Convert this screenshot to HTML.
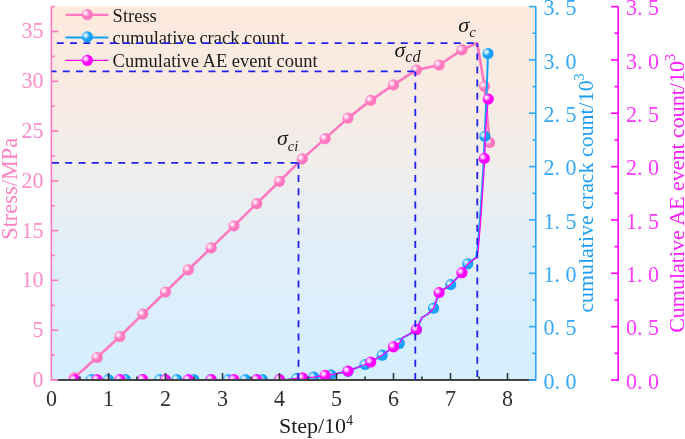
<!DOCTYPE html>
<html><head><meta charset="utf-8"><style>
html,body{margin:0;padding:0;background:#fff;width:685px;height:439px;overflow:hidden;}
svg{display:block;font-family:"Liberation Serif",serif;will-change:transform;}
</style></head><body>
<svg width="685" height="439" viewBox="0 0 685 439">
<defs>
<linearGradient id="bg" x1="0" y1="0" x2="0" y2="1">
<stop offset="0" stop-color="rgb(253,234,221)"/>
<stop offset="0.25" stop-color="rgb(248,235,227)"/>
<stop offset="0.47" stop-color="rgb(238,238,238)"/>
<stop offset="0.65" stop-color="rgb(225,238,248)"/>
<stop offset="0.89" stop-color="rgb(216,239,253)"/>
<stop offset="1" stop-color="rgb(213,239,255)"/>
</linearGradient>
<radialGradient id="gp" cx="0.36" cy="0.38" r="0.7" fx="0.34" fy="0.36">
<stop offset="0" stop-color="#FFFFFF"/><stop offset="0.18" stop-color="#FFD6EC"/><stop offset="0.5" stop-color="#FF78C0"/><stop offset="1" stop-color="#FF78C0"/></radialGradient>
<radialGradient id="gb" cx="0.36" cy="0.38" r="0.7" fx="0.34" fy="0.36">
<stop offset="0" stop-color="#FFFFFF"/><stop offset="0.18" stop-color="#B8E4FF"/><stop offset="0.5" stop-color="#14A0F8"/><stop offset="1" stop-color="#14A0F8"/></radialGradient>
<radialGradient id="gm" cx="0.36" cy="0.38" r="0.7" fx="0.34" fy="0.36">
<stop offset="0" stop-color="#FFFFFF"/><stop offset="0.18" stop-color="#FFC0FF"/><stop offset="0.5" stop-color="#FF00FF"/><stop offset="1" stop-color="#FF00FF"/></radialGradient>
<clipPath id="cp"><rect x="51.5" y="6.6" width="484.3" height="373.4"/></clipPath>
</defs>
<rect x="52" y="6.6" width="483.8" height="373.4" fill="url(#bg)"/>
<g clip-path="url(#cp)">
<polyline points="74.3,377.5 97.1,357.5 119.9,336.5 142.7,314.1 165.5,292.0 188.3,269.8 211.1,247.9 233.9,225.9 256.7,203.6 279.5,181.3 302.3,158.9 325.1,138.6 347.9,118.1 370.7,100.4 393.5,84.9 416.3,70.0 439.1,65.0 461.9,49.9 477.2,43.0 484.5,86.3 489.6,142.5" fill="none" stroke="#FF78C0" stroke-width="2.6" stroke-linejoin="round"/>
<circle cx="74.3" cy="377.5" r="5.6" fill="url(#gp)"/><circle cx="97.1" cy="357.5" r="5.6" fill="url(#gp)"/><circle cx="119.9" cy="336.5" r="5.6" fill="url(#gp)"/><circle cx="142.7" cy="314.1" r="5.6" fill="url(#gp)"/><circle cx="165.5" cy="292.0" r="5.6" fill="url(#gp)"/><circle cx="188.3" cy="269.8" r="5.6" fill="url(#gp)"/><circle cx="211.1" cy="247.9" r="5.6" fill="url(#gp)"/><circle cx="233.9" cy="225.9" r="5.6" fill="url(#gp)"/><circle cx="256.7" cy="203.6" r="5.6" fill="url(#gp)"/><circle cx="279.5" cy="181.3" r="5.6" fill="url(#gp)"/><circle cx="302.3" cy="158.9" r="5.6" fill="url(#gp)"/><circle cx="325.1" cy="138.6" r="5.6" fill="url(#gp)"/><circle cx="347.9" cy="118.1" r="5.6" fill="url(#gp)"/><circle cx="370.7" cy="100.4" r="5.6" fill="url(#gp)"/><circle cx="393.5" cy="84.9" r="5.6" fill="url(#gp)"/><circle cx="416.3" cy="70.0" r="5.6" fill="url(#gp)"/><circle cx="439.1" cy="65.0" r="5.6" fill="url(#gp)"/><circle cx="461.9" cy="49.9" r="5.6" fill="url(#gp)"/><circle cx="484.5" cy="86.3" r="5.6" fill="url(#gp)"/><circle cx="489.6" cy="142.5" r="5.6" fill="url(#gp)"/>
<polyline points="51.5,380.0 285.0,380.0 296.6,378.4 302.3,377.8 313.7,377.2 325.1,375.4 330.9,374.9 347.9,371.2 365.1,364.5 370.7,362.0 382.2,355.2 393.5,346.8 399.4,343.3 402.5,337.8 410.0,333.8 416.3,329.5 422.0,317.5 428.0,314.0 433.6,308.2 439.1,292.6 450.7,284.6 461.9,272.7 467.8,264.0 471.0,261.5 476.1,257.3 477.6,248.0 479.1,230.0 480.6,210.0 482.6,180.0 483.9,158.4 484.7,136.4 486.5,95.0 488.0,53.5" fill="none" stroke="#14A0F8" stroke-width="2" stroke-linejoin="round"/>
<circle cx="91.2" cy="379.6" r="5.6" fill="url(#gb)"/><circle cx="108.3" cy="379.6" r="5.6" fill="url(#gb)"/><circle cx="125.4" cy="379.6" r="5.6" fill="url(#gb)"/><circle cx="142.6" cy="379.6" r="5.6" fill="url(#gb)"/><circle cx="159.7" cy="379.6" r="5.6" fill="url(#gb)"/><circle cx="176.8" cy="379.6" r="5.6" fill="url(#gb)"/><circle cx="193.9" cy="379.6" r="5.6" fill="url(#gb)"/><circle cx="211.0" cy="379.6" r="5.6" fill="url(#gb)"/><circle cx="228.2" cy="379.6" r="5.6" fill="url(#gb)"/><circle cx="245.3" cy="379.6" r="5.6" fill="url(#gb)"/><circle cx="262.4" cy="379.6" r="5.6" fill="url(#gb)"/><circle cx="279.5" cy="379.6" r="5.6" fill="url(#gb)"/><circle cx="296.6" cy="378.4" r="5.6" fill="url(#gb)"/><circle cx="313.7" cy="377.2" r="5.6" fill="url(#gb)"/><circle cx="330.9" cy="374.9" r="5.6" fill="url(#gb)"/><circle cx="348.0" cy="371.3" r="5.6" fill="url(#gb)"/><circle cx="365.1" cy="364.5" r="5.6" fill="url(#gb)"/><circle cx="382.2" cy="355.2" r="5.6" fill="url(#gb)"/><circle cx="399.4" cy="343.3" r="5.6" fill="url(#gb)"/><circle cx="416.5" cy="329.6" r="5.6" fill="url(#gb)"/><circle cx="433.6" cy="308.2" r="5.6" fill="url(#gb)"/><circle cx="450.7" cy="284.6" r="5.6" fill="url(#gb)"/><circle cx="467.8" cy="263.8" r="5.6" fill="url(#gb)"/><circle cx="484.9" cy="136.4" r="5.6" fill="url(#gb)"/><circle cx="488.0" cy="53.5" r="5.6" fill="url(#gb)"/>
<polyline points="51.5,380.0 285.0,380.0 296.6,378.4 302.3,377.8 313.7,377.2 325.1,375.4 330.9,374.9 347.9,371.2 365.1,364.5 370.7,362.0 382.2,355.2 393.5,346.8 399.4,343.3 402.5,337.8 410.0,333.8 416.3,329.5 422.0,317.5 428.0,314.0 433.6,308.2 439.1,292.6 450.7,284.6 461.9,272.7 467.8,264.0 471.0,261.5 476.9,257.3 478.4,248.0 479.9,230.0 481.4,210.0 483.4,180.0 484.8,158.4 485.2,136.4 486.6,118.0 488.3,99.0" fill="none" stroke="#FF00FF" stroke-width="1.3" stroke-linejoin="round"/>
<circle cx="74.3" cy="379.6" r="5.6" fill="url(#gm)"/><circle cx="97.1" cy="379.6" r="5.6" fill="url(#gm)"/><circle cx="119.9" cy="379.6" r="5.6" fill="url(#gm)"/><circle cx="142.7" cy="379.6" r="5.6" fill="url(#gm)"/><circle cx="165.5" cy="379.6" r="5.6" fill="url(#gm)"/><circle cx="188.3" cy="379.6" r="5.6" fill="url(#gm)"/><circle cx="211.1" cy="379.6" r="5.6" fill="url(#gm)"/><circle cx="233.9" cy="379.6" r="5.6" fill="url(#gm)"/><circle cx="256.7" cy="379.6" r="5.6" fill="url(#gm)"/><circle cx="279.5" cy="379.6" r="5.6" fill="url(#gm)"/><circle cx="302.3" cy="377.8" r="5.6" fill="url(#gm)"/><circle cx="325.1" cy="375.4" r="5.6" fill="url(#gm)"/><circle cx="347.9" cy="371.1" r="5.6" fill="url(#gm)"/><circle cx="370.7" cy="362.0" r="5.6" fill="url(#gm)"/><circle cx="393.5" cy="346.8" r="5.6" fill="url(#gm)"/><circle cx="416.3" cy="329.5" r="5.6" fill="url(#gm)"/><circle cx="439.1" cy="292.6" r="5.6" fill="url(#gm)"/><circle cx="461.9" cy="272.7" r="5.6" fill="url(#gm)"/><circle cx="484.3" cy="158.4" r="5.6" fill="url(#gm)"/><circle cx="488.3" cy="99.0" r="5.6" fill="url(#gm)"/>
</g>
<line x1="51.4" y1="6.6" x2="51.4" y2="380.8" stroke="#FF78C0" stroke-width="1.6"/>
<line x1="58" y1="379.9" x2="536" y2="379.9" stroke="#444" stroke-width="2"/>
<line x1="80.0" y1="376.5" x2="80.0" y2="380" stroke="#333" stroke-width="1.6"/>
<line x1="108.5" y1="373" x2="108.5" y2="380" stroke="#333" stroke-width="1.6"/>
<line x1="137.0" y1="376.5" x2="137.0" y2="380" stroke="#333" stroke-width="1.6"/>
<line x1="165.5" y1="373" x2="165.5" y2="380" stroke="#333" stroke-width="1.6"/>
<line x1="194.0" y1="376.5" x2="194.0" y2="380" stroke="#333" stroke-width="1.6"/>
<line x1="222.5" y1="373" x2="222.5" y2="380" stroke="#333" stroke-width="1.6"/>
<line x1="251.0" y1="376.5" x2="251.0" y2="380" stroke="#333" stroke-width="1.6"/>
<line x1="279.5" y1="373" x2="279.5" y2="380" stroke="#333" stroke-width="1.6"/>
<line x1="308.0" y1="376.5" x2="308.0" y2="380" stroke="#333" stroke-width="1.6"/>
<line x1="336.5" y1="373" x2="336.5" y2="380" stroke="#333" stroke-width="1.6"/>
<line x1="365.0" y1="376.5" x2="365.0" y2="380" stroke="#333" stroke-width="1.6"/>
<line x1="393.5" y1="373" x2="393.5" y2="380" stroke="#333" stroke-width="1.6"/>
<line x1="422.0" y1="376.5" x2="422.0" y2="380" stroke="#333" stroke-width="1.6"/>
<line x1="450.5" y1="373" x2="450.5" y2="380" stroke="#333" stroke-width="1.6"/>
<line x1="479.0" y1="376.5" x2="479.0" y2="380" stroke="#333" stroke-width="1.6"/>
<line x1="507.5" y1="373" x2="507.5" y2="380" stroke="#333" stroke-width="1.6"/>
<line x1="51.4" y1="380.0" x2="58.2" y2="380.0" stroke="#FF78C0" stroke-width="1.6"/>
<line x1="51.4" y1="355.1" x2="54.8" y2="355.1" stroke="#FF78C0" stroke-width="1.6"/>
<line x1="51.4" y1="330.2" x2="58.2" y2="330.2" stroke="#FF78C0" stroke-width="1.6"/>
<line x1="51.4" y1="305.3" x2="54.8" y2="305.3" stroke="#FF78C0" stroke-width="1.6"/>
<line x1="51.4" y1="280.4" x2="58.2" y2="280.4" stroke="#FF78C0" stroke-width="1.6"/>
<line x1="51.4" y1="255.5" x2="54.8" y2="255.5" stroke="#FF78C0" stroke-width="1.6"/>
<line x1="51.4" y1="230.6" x2="58.2" y2="230.6" stroke="#FF78C0" stroke-width="1.6"/>
<line x1="51.4" y1="205.8" x2="54.8" y2="205.8" stroke="#FF78C0" stroke-width="1.6"/>
<line x1="51.4" y1="180.9" x2="58.2" y2="180.9" stroke="#FF78C0" stroke-width="1.6"/>
<line x1="51.4" y1="156.0" x2="54.8" y2="156.0" stroke="#FF78C0" stroke-width="1.6"/>
<line x1="51.4" y1="131.1" x2="58.2" y2="131.1" stroke="#FF78C0" stroke-width="1.6"/>
<line x1="51.4" y1="106.2" x2="54.8" y2="106.2" stroke="#FF78C0" stroke-width="1.6"/>
<line x1="51.4" y1="81.3" x2="58.2" y2="81.3" stroke="#FF78C0" stroke-width="1.6"/>
<line x1="51.4" y1="56.4" x2="54.8" y2="56.4" stroke="#FF78C0" stroke-width="1.6"/>
<line x1="51.4" y1="31.5" x2="58.2" y2="31.5" stroke="#FF78C0" stroke-width="1.6"/>
<line x1="51.4" y1="6.6" x2="54.8" y2="6.6" stroke="#FF78C0" stroke-width="1.6"/>
<line x1="535.8" y1="6.6" x2="535.8" y2="380.8" stroke="#2CA8FA" stroke-width="1.6"/>
<line x1="529" y1="380.0" x2="536" y2="380.0" stroke="#2CA8FA" stroke-width="1.6"/>
<line x1="532.4" y1="353.3" x2="536" y2="353.3" stroke="#2CA8FA" stroke-width="1.6"/>
<line x1="529" y1="326.6" x2="536" y2="326.6" stroke="#2CA8FA" stroke-width="1.6"/>
<line x1="532.4" y1="300.0" x2="536" y2="300.0" stroke="#2CA8FA" stroke-width="1.6"/>
<line x1="529" y1="273.3" x2="536" y2="273.3" stroke="#2CA8FA" stroke-width="1.6"/>
<line x1="532.4" y1="246.6" x2="536" y2="246.6" stroke="#2CA8FA" stroke-width="1.6"/>
<line x1="529" y1="219.9" x2="536" y2="219.9" stroke="#2CA8FA" stroke-width="1.6"/>
<line x1="532.4" y1="193.3" x2="536" y2="193.3" stroke="#2CA8FA" stroke-width="1.6"/>
<line x1="529" y1="166.6" x2="536" y2="166.6" stroke="#2CA8FA" stroke-width="1.6"/>
<line x1="532.4" y1="139.9" x2="536" y2="139.9" stroke="#2CA8FA" stroke-width="1.6"/>
<line x1="529" y1="113.2" x2="536" y2="113.2" stroke="#2CA8FA" stroke-width="1.6"/>
<line x1="532.4" y1="86.6" x2="536" y2="86.6" stroke="#2CA8FA" stroke-width="1.6"/>
<line x1="529" y1="59.9" x2="536" y2="59.9" stroke="#2CA8FA" stroke-width="1.6"/>
<line x1="532.4" y1="33.2" x2="536" y2="33.2" stroke="#2CA8FA" stroke-width="1.6"/>
<line x1="529" y1="6.6" x2="536" y2="6.6" stroke="#2CA8FA" stroke-width="1.6"/>
<line x1="618.2" y1="6.6" x2="618.2" y2="380.8" stroke="#FF00FF" stroke-width="1.6"/>
<line x1="611" y1="380.0" x2="618.5" y2="380.0" stroke="#FF00FF" stroke-width="1.6"/>
<line x1="614.6" y1="353.3" x2="618.5" y2="353.3" stroke="#FF00FF" stroke-width="1.6"/>
<line x1="611" y1="326.6" x2="618.5" y2="326.6" stroke="#FF00FF" stroke-width="1.6"/>
<line x1="614.6" y1="300.0" x2="618.5" y2="300.0" stroke="#FF00FF" stroke-width="1.6"/>
<line x1="611" y1="273.3" x2="618.5" y2="273.3" stroke="#FF00FF" stroke-width="1.6"/>
<line x1="614.6" y1="246.6" x2="618.5" y2="246.6" stroke="#FF00FF" stroke-width="1.6"/>
<line x1="611" y1="219.9" x2="618.5" y2="219.9" stroke="#FF00FF" stroke-width="1.6"/>
<line x1="614.6" y1="193.3" x2="618.5" y2="193.3" stroke="#FF00FF" stroke-width="1.6"/>
<line x1="611" y1="166.6" x2="618.5" y2="166.6" stroke="#FF00FF" stroke-width="1.6"/>
<line x1="614.6" y1="139.9" x2="618.5" y2="139.9" stroke="#FF00FF" stroke-width="1.6"/>
<line x1="611" y1="113.2" x2="618.5" y2="113.2" stroke="#FF00FF" stroke-width="1.6"/>
<line x1="614.6" y1="86.6" x2="618.5" y2="86.6" stroke="#FF00FF" stroke-width="1.6"/>
<line x1="611" y1="59.9" x2="618.5" y2="59.9" stroke="#FF00FF" stroke-width="1.6"/>
<line x1="614.6" y1="33.2" x2="618.5" y2="33.2" stroke="#FF00FF" stroke-width="1.6"/>
<line x1="611" y1="6.6" x2="618.5" y2="6.6" stroke="#FF00FF" stroke-width="1.6"/>
<text transform="translate(43.6,387.0) scale(1,1.04)" font-family="Liberation Serif" font-size="22" fill="#FF8CC8" text-anchor="end">0</text>
<text transform="translate(43.6,337.2) scale(1,1.04)" font-family="Liberation Serif" font-size="22" fill="#FF8CC8" text-anchor="end">5</text>
<text transform="translate(43.6,287.4) scale(1,1.04)" font-family="Liberation Serif" font-size="22" fill="#FF8CC8" text-anchor="end">10</text>
<text transform="translate(43.6,237.6) scale(1,1.04)" font-family="Liberation Serif" font-size="22" fill="#FF8CC8" text-anchor="end">15</text>
<text transform="translate(43.6,187.9) scale(1,1.04)" font-family="Liberation Serif" font-size="22" fill="#FF8CC8" text-anchor="end">20</text>
<text transform="translate(43.6,138.1) scale(1,1.04)" font-family="Liberation Serif" font-size="22" fill="#FF8CC8" text-anchor="end">25</text>
<text transform="translate(43.6,88.3) scale(1,1.04)" font-family="Liberation Serif" font-size="22" fill="#FF8CC8" text-anchor="end">30</text>
<text transform="translate(43.6,37.5) scale(1,1.04)" font-family="Liberation Serif" font-size="22" fill="#FF8CC8" text-anchor="end">35</text>
<text transform="translate(51.5,406.4) scale(1,1.08)" font-family="Liberation Serif" font-size="22" fill="#303030" text-anchor="middle">0</text>
<text transform="translate(108.5,406.4) scale(1,1.08)" font-family="Liberation Serif" font-size="22" fill="#303030" text-anchor="middle">1</text>
<text transform="translate(165.5,406.4) scale(1,1.08)" font-family="Liberation Serif" font-size="22" fill="#303030" text-anchor="middle">2</text>
<text transform="translate(222.5,406.4) scale(1,1.08)" font-family="Liberation Serif" font-size="22" fill="#303030" text-anchor="middle">3</text>
<text transform="translate(279.5,406.4) scale(1,1.08)" font-family="Liberation Serif" font-size="22" fill="#303030" text-anchor="middle">4</text>
<text transform="translate(336.5,406.4) scale(1,1.08)" font-family="Liberation Serif" font-size="22" fill="#303030" text-anchor="middle">5</text>
<text transform="translate(393.5,406.4) scale(1,1.08)" font-family="Liberation Serif" font-size="22" fill="#303030" text-anchor="middle">6</text>
<text transform="translate(450.5,406.4) scale(1,1.08)" font-family="Liberation Serif" font-size="22" fill="#303030" text-anchor="middle">7</text>
<text transform="translate(507.5,406.4) scale(1,1.08)" font-family="Liberation Serif" font-size="22" fill="#303030" text-anchor="middle">8</text>
<text transform="translate(543.5,388.6) scale(1,1.09)" font-family="Liberation Serif" font-size="22" fill="#36A8F4" xml:space="preserve">0. 0</text>
<text transform="translate(626.0,388.6) scale(1,1.09)" font-family="Liberation Serif" font-size="22" fill="#FF38FF" xml:space="preserve">0. 0</text>
<text transform="translate(543.5,335.2) scale(1,1.09)" font-family="Liberation Serif" font-size="22" fill="#36A8F4" xml:space="preserve">0. 5</text>
<text transform="translate(626.0,335.2) scale(1,1.09)" font-family="Liberation Serif" font-size="22" fill="#FF38FF" xml:space="preserve">0. 5</text>
<text transform="translate(543.5,281.9) scale(1,1.09)" font-family="Liberation Serif" font-size="22" fill="#36A8F4" xml:space="preserve">1. 0</text>
<text transform="translate(626.0,281.9) scale(1,1.09)" font-family="Liberation Serif" font-size="22" fill="#FF38FF" xml:space="preserve">1. 0</text>
<text transform="translate(543.5,228.5) scale(1,1.09)" font-family="Liberation Serif" font-size="22" fill="#36A8F4" xml:space="preserve">1. 5</text>
<text transform="translate(626.0,228.5) scale(1,1.09)" font-family="Liberation Serif" font-size="22" fill="#FF38FF" xml:space="preserve">1. 5</text>
<text transform="translate(543.5,175.2) scale(1,1.09)" font-family="Liberation Serif" font-size="22" fill="#36A8F4" xml:space="preserve">2. 0</text>
<text transform="translate(626.0,175.2) scale(1,1.09)" font-family="Liberation Serif" font-size="22" fill="#FF38FF" xml:space="preserve">2. 0</text>
<text transform="translate(543.5,121.8) scale(1,1.09)" font-family="Liberation Serif" font-size="22" fill="#36A8F4" xml:space="preserve">2. 5</text>
<text transform="translate(626.0,121.8) scale(1,1.09)" font-family="Liberation Serif" font-size="22" fill="#FF38FF" xml:space="preserve">2. 5</text>
<text transform="translate(543.5,68.5) scale(1,1.09)" font-family="Liberation Serif" font-size="22" fill="#36A8F4" xml:space="preserve">3. 0</text>
<text transform="translate(626.0,68.5) scale(1,1.09)" font-family="Liberation Serif" font-size="22" fill="#FF38FF" xml:space="preserve">3. 0</text>
<text transform="translate(543.5,15.2) scale(1,1.09)" font-family="Liberation Serif" font-size="22" fill="#36A8F4" xml:space="preserve">3. 5</text>
<text transform="translate(626.0,15.2) scale(1,1.09)" font-family="Liberation Serif" font-size="22" fill="#FF38FF" xml:space="preserve">3. 5</text>
<text transform="translate(17.3,188.8) rotate(-90)" font-family="Liberation Serif" font-size="22.4" fill="#FF82C4" text-anchor="middle">Stress/MPa</text>
<text x="278.9" y="433.3" font-family="Liberation Serif" font-size="22" fill="#1c1c1c">Step/10<tspan font-size="13.6" dy="-8.8">4</tspan></text>
<text transform="translate(592.5,312.6) rotate(-90)" font-family="Liberation Serif" font-size="21.9" fill="#1E9EF2">cumulative crack count/10<tspan font-size="14" dy="-9">3</tspan></text>
<text transform="translate(683.7,332.8) rotate(-90)" font-family="Liberation Serif" font-size="22" fill="#FF1AFF">Cumulative AE event count/10<tspan font-size="14" dy="-9">3</tspan></text>
<line x1="65.5" y1="14.9" x2="108.4" y2="14.9" stroke="#FF78C0" stroke-width="2.2"/>
<circle cx="87.4" cy="14.6" r="5.6" fill="url(#gp)"/>
<line x1="65.5" y1="37.6" x2="108.4" y2="37.6" stroke="#14A0F8" stroke-width="2"/>
<circle cx="87.4" cy="36.9" r="5.6" fill="url(#gb)"/>
<line x1="65.5" y1="60.3" x2="108.4" y2="60.3" stroke="#FF00FF" stroke-width="1.3"/>
<circle cx="87.4" cy="60.3" r="5.6" fill="url(#gm)"/>
<text x="112.6" y="21.5" font-family="Liberation Serif" font-size="18.5" fill="#1c1c1c">Stress</text>
<text x="112.6" y="43.6" font-family="Liberation Serif" font-size="18.5" fill="#1c1c1c">cumulative crack count</text>
<text x="112.6" y="66.5" font-family="Liberation Serif" font-size="18.5" fill="#1c1c1c">Cumulative AE event count</text>
<text x="277" y="144.6" font-family="Liberation Serif" font-style="italic" font-size="22" fill="#1c1c1c">σ<tspan font-size="14.5" dy="6">ci</tspan></text>
<text x="394.5" y="57.3" font-family="Liberation Serif" font-style="italic" font-size="22" fill="#1c1c1c">σ<tspan font-size="16.3" dy="4.9">cd</tspan></text>
<text x="458.3" y="31.5" font-family="Liberation Serif" font-style="italic" font-size="22" fill="#1c1c1c">σ<tspan font-size="15" dy="5.8">c</tspan></text>
<line x1="51.5" y1="162.8" x2="298.5" y2="162.8" fill="none" stroke="#2222EE" stroke-width="1.8" stroke-dasharray="7 6.25" stroke-dashoffset="12.75"/>
<line x1="298.5" y1="380" x2="298.5" y2="162.8" fill="none" stroke="#2222EE" stroke-width="1.8" stroke-dasharray="7 6.2" stroke-dashoffset="0"/>
<line x1="51.5" y1="71.4" x2="415.3" y2="71.4" fill="none" stroke="#2222EE" stroke-width="1.8" stroke-dasharray="7 6.25" stroke-dashoffset="2"/>
<line x1="415.3" y1="380" x2="415.3" y2="71.4" fill="none" stroke="#2222EE" stroke-width="1.8" stroke-dasharray="7 6.2" stroke-dashoffset="0"/>
<line x1="51.5" y1="43.2" x2="477.3" y2="43.2" fill="none" stroke="#2222EE" stroke-width="1.8" stroke-dasharray="7 6.23" stroke-dashoffset="7.93"/>
<line x1="477.3" y1="380" x2="477.3" y2="43.2" fill="none" stroke="#2222EE" stroke-width="1.8" stroke-dasharray="7 6.2" stroke-dashoffset="10.2"/>
</svg>
</body></html>
